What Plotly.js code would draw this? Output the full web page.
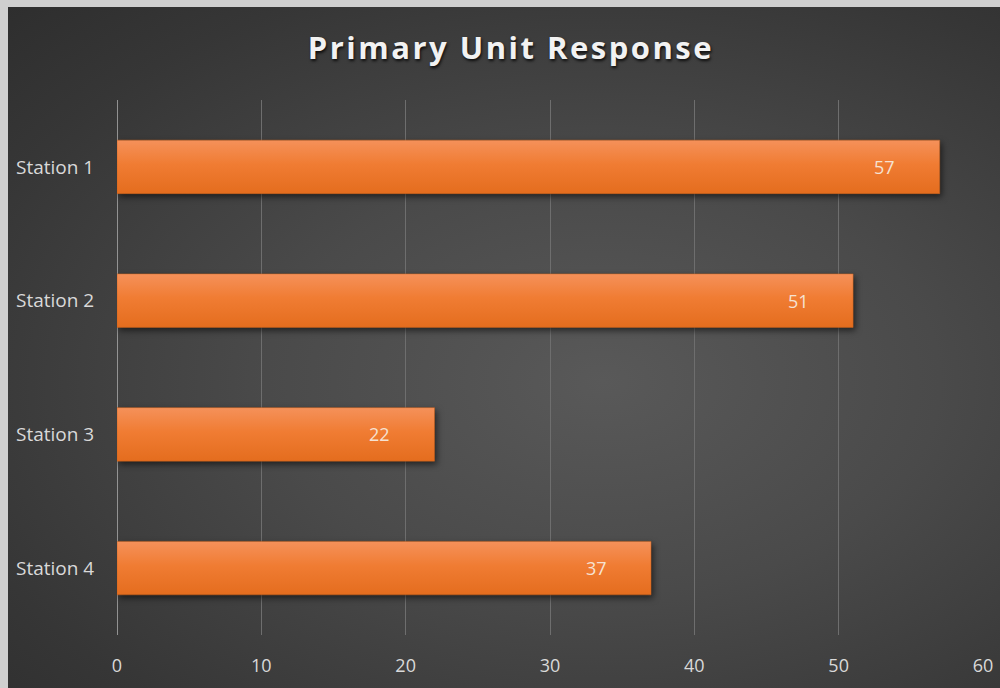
<!DOCTYPE html>
<html>
<head>
<meta charset="utf-8">
<script src="https://cdn.plot.ly/plotly-3.0.1.min.js"></script>
<style>
  html, body { margin: 0; padding: 0; width: 1000px; height: 688px; overflow: hidden;
    background: #cfcfcf; }
  #chart { position: absolute; left: 8px; top: 7px; width: 992px; height: 681px;
    background: radial-gradient(ellipse at 60% 55%, #595959 0%, #4a4a4a 40%, #363636 80%, #2e2e2e 100%); }
  #chart .bars path { filter: drop-shadow(2px 3px 3px rgba(0,0,0,0.55)); }
  #chart .gtitle { letter-spacing: 2.5px; }
</style>
</head>
<body>
<div id="chart"></div>
<script>
const categories = ["Station 1", "Station 2", "Station 3", "Station 4"];
const values = [57, 51, 22, 37];
const xTicks = [0, 10, 20, 30, 40, 50, 60];
const titleText = "Primary Unit Response";

const trace = {
  type: "bar",
  orientation: "h",
  y: categories,
  x: values,
  marker: { color: "#ED7D31", line: { color: "#c9601c", width: 0.5 } },
  hoverinfo: "x+y"
};

const annotations = values.map((v, i) => ({
  x: v, y: categories[i], xref: "x", yref: "y",
  text: String(v), showarrow: false, xshift: -55,
  font: { family: "Open Sans, sans-serif", size: 18, color: "#f6e2d2" }
}));

const layout = {
  width: 992, height: 681,
  paper_bgcolor: "rgba(0,0,0,0)", plot_bgcolor: "rgba(0,0,0,0)",
  margin: { l: 109, r: 17, t: 93, b: 53 },
  title: {
    text: titleText, x: 0.507, xanchor: "center", y: 0.94, yanchor: "middle",
    font: { family: "Open Sans, sans-serif", size: 31, color: "#f2f2f2", weight: "bold",
            shadow: "1px 2px 3px rgba(0,0,0,0.8)" }
  },
  bargap: 0.6,
  showlegend: false,
  xaxis: {
    range: [0, 60], tickvals: xTicks, ticktext: xTicks.map(String),
    showgrid: true, gridcolor: "#6e6e6e", gridwidth: 1,
    zeroline: false, showline: false,
    ticks: "outside", ticklen: 14, tickcolor: "rgba(0,0,0,0)",
    tickfont: { family: "Open Sans, sans-serif", size: 18, color: "#d9d9d9" },
    fixedrange: true
  },
  yaxis: {
    type: "category", autorange: "reversed",
    showgrid: false, zeroline: false,
    showline: false,
    ticks: "outside", ticklen: 18, tickcolor: "rgba(0,0,0,0)",
    tickfont: { family: "Open Sans, sans-serif", size: 19, color: "#d9d9d9" },
    fixedrange: true
  },
  shapes: [{ type: "line", xref: "x", yref: "paper", x0: 0, x1: 0, y0: 0, y1: 1,
             line: { color: "#b0b0b0", width: 1.5 }, layer: "below" }],
  annotations: annotations
};

Plotly.newPlot("chart", [trace], layout, { displayModeBar: false, staticPlot: true }).then(gd => {
  const svg = gd.querySelector("svg.main-svg");
  const ns = "http://www.w3.org/2000/svg";
  let defs = svg.querySelector("defs");
  if (!defs) { defs = document.createElementNS(ns, "defs"); svg.insertBefore(defs, svg.firstChild); }
  const g = document.createElementNS(ns, "linearGradient");
  g.setAttribute("id", "barGrad");
  g.setAttribute("x1", "0"); g.setAttribute("y1", "0"); g.setAttribute("x2", "0"); g.setAttribute("y2", "1");
  [["0", "#f5915a"], ["0.45", "#f07c33"], ["1", "#e46d1e"]].forEach(([o, c]) => {
    const s = document.createElementNS(ns, "stop");
    s.setAttribute("offset", o); s.setAttribute("stop-color", c);
    g.appendChild(s);
  });
  defs.appendChild(g);
  gd.querySelectorAll(".bars path").forEach(p => { p.style.fill = "url(#barGrad)"; });
});
</script>
</body>
</html>
